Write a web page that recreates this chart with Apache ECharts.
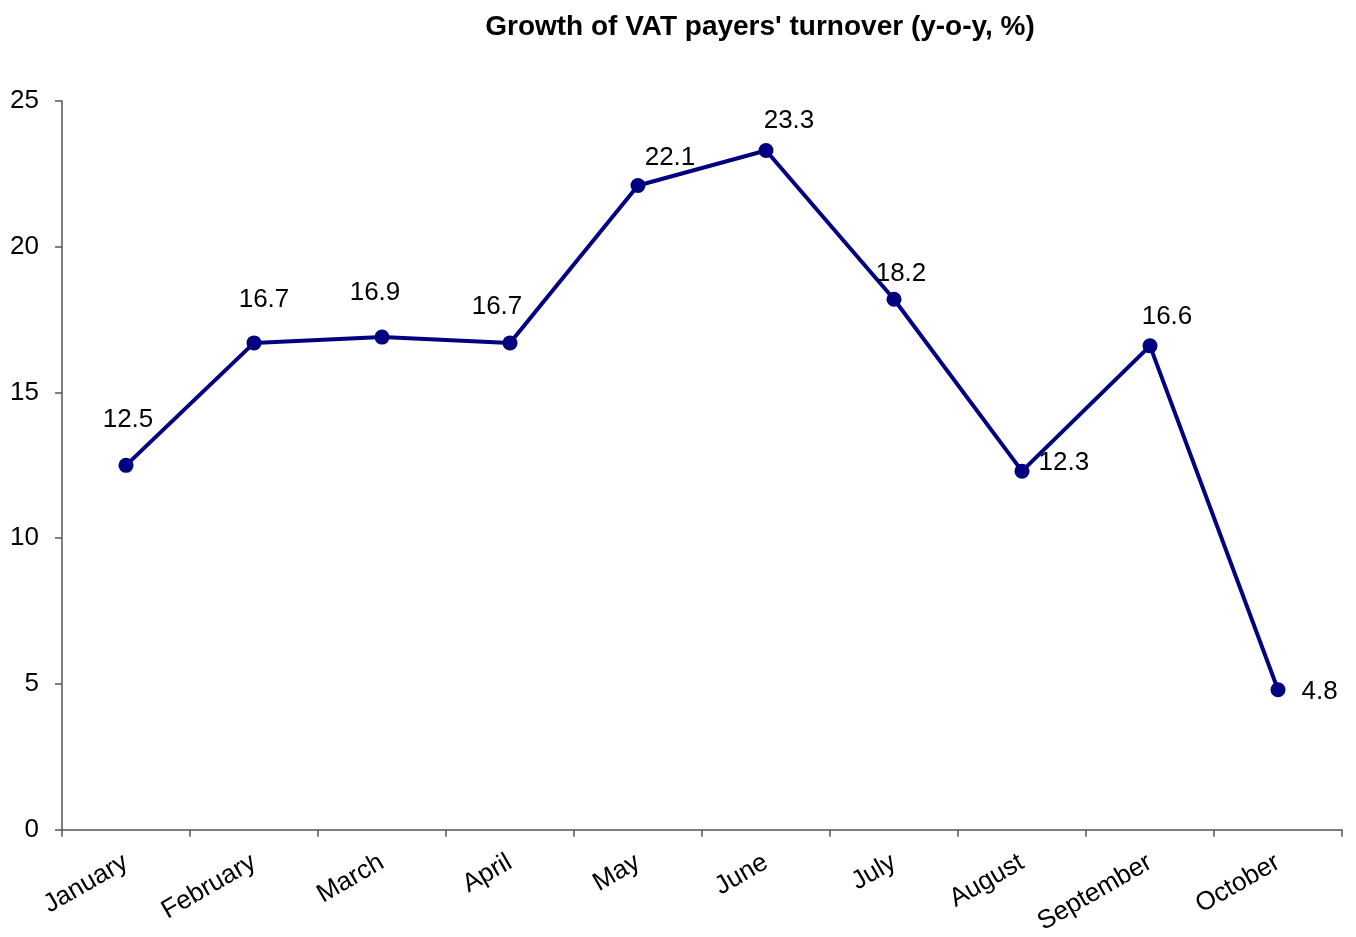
<!DOCTYPE html>
<html>
<head>
<meta charset="utf-8">
<script src="https://cdn.jsdelivr.net/npm/echarts@6/dist/echarts.min.js"></script>
<style>html,body{margin:0;padding:0;background:#fff;}#c{width:1356px;height:937px;}</style>
</head>
<body>
<div id="c"></div>
<script>
const titleText = "Growth of VAT payers' turnover (y-o-y, %)";
const categories = ["January","February","March","April","May","June","July","August","September","October"];
const values = [12.5, 16.7, 16.9, 16.7, 22.1, 23.3, 18.2, 12.3, 16.6, 4.8];
const yTicks = [0, 5, 10, 15, 20, 25];

// label placement styling (not data)
const labelStyle = [
  {position:'top', offset:[2,-25]},
  {position:'top', offset:[10,-23]},
  {position:'top', offset:[-7,-24]},
  {position:'top', offset:[-13,-16]},
  {position:'top', offset:[32,-7]},
  {position:'top', offset:[23,-9]},
  {position:'top', offset:[7,-5]},
  {position:'right', distance:9, offset:[0,-8]},
  {position:'top', offset:[17,-8]},
  {position:'right', distance:16, offset:[0,2]}
];

const font = "'Liberation Sans', Arial, sans-serif";
const chart = echarts.init(document.getElementById('c'), null, {renderer:'canvas'});
chart.setOption({
  animation:false,
  backgroundColor:'#fff',
  title:{text:titleText, left:755, top:8, textAlign:'center',
    textStyle:{fontFamily:font, fontSize:28, fontWeight:'bold', color:'#000'}},
  grid:{left:62, right:14, top:101, bottom:106, containLabel:false},
  xAxis:{type:'category', data:categories, boundaryGap:true,
    axisLine:{lineStyle:{color:'#555', width:1.5}},
    axisTick:{show:true, length:7, lineStyle:{color:'#555', width:1.5}},
    axisLabel:{rotate:30, margin:31, fontFamily:font, fontSize:26, color:'#000', interval:0},
    splitLine:{show:false}},
  yAxis:{type:'value', min:yTicks[0], max:yTicks[yTicks.length-1], interval:5,
    axisLine:{show:true, lineStyle:{color:'#555', width:1.5}},
    axisTick:{show:true, length:7, lineStyle:{color:'#555', width:1.5}},
    axisLabel:{margin:23, fontFamily:font, fontSize:26, color:'#000'},
    splitLine:{show:false}},
  series:[{type:'line', data:values.map((v,i)=>({value:v, label:Object.assign({}, labelStyle[i])})),
    symbol:'circle', symbolSize:15,
    lineStyle:{color:'#000080', width:4},
    itemStyle:{color:'#000080'},
    label:{show:true, distance:0, fontFamily:font, fontSize:26, color:'#000'}}]
});
</script>
</body>
</html>
